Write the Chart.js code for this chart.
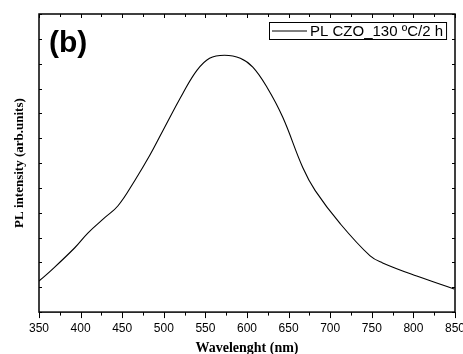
<!DOCTYPE html>
<html>
<head>
<meta charset="utf-8">
<script src="https://cdn.jsdelivr.net/npm/chart.js@4/dist/chart.umd.min.js"></script>
<style>
  html, body { margin: 0; padding: 0; background: #fff; }
  #wrap { width: 463px; height: 354px; }
</style>
</head>
<body>
<div id="wrap"><canvas id="grafico" width="463" height="354"></canvas></div>
<script>
const longitudes = [350, 364, 393, 409, 429, 445, 465, 483, 499, 523, 540, 555, 573, 592, 607, 624, 643, 667, 682, 712, 748, 763, 804, 849];
const intensidades = [1.25, 1.66, 2.59, 3.19, 3.80, 4.28, 5.29, 6.30, 7.31, 8.81, 9.74, 10.22, 10.34, 10.22, 9.86, 9.05, 7.84, 5.82, 4.89, 3.56, 2.26, 1.98, 1.45, 0.93];
const etiquetaSerie = "PL CZO_130 ºC/2 h";
const panel = "(b)";
const xMin = 350, xMax = 850, xPaso = 50, xMenor = 25;
const yMin = 0, yMax = 12, yPaso = 1;

const puntos = longitudes.map((x, i) => ({ x: x, y: intensidades[i] }));

// marco, ticks hacia dentro y leyenda con borde
const marco = {
  id: "marco",
  afterDraw(chart) {
    const ctx = chart.ctx;
    const a = chart.chartArea;
    const xs = chart.scales.x;
    const ys = chart.scales.y;
    ctx.save();
    ctx.strokeStyle = "#000";
    ctx.lineWidth = 1.5;
    ctx.strokeRect(a.left, a.top, a.right - a.left, a.bottom - a.top);
    ctx.lineWidth = 1;
    ctx.beginPath();
    for (let v = xMin; v <= xMax; v += xMenor) {
      const px = Math.round(xs.getPixelForValue(v)) + 0.5;
      const largo = v % xPaso === 0 ? 6 : 3.5;
      ctx.moveTo(px, a.bottom);
      ctx.lineTo(px, a.bottom + largo);
      ctx.moveTo(px, a.top);
      ctx.lineTo(px, a.top + (v % xPaso === 0 ? 4 : 3));
    }
    for (let v = yMin; v <= yMax; v += yPaso) {
      const py = Math.round(ys.getPixelForValue(v)) + 0.5;
      ctx.moveTo(a.left, py);
      ctx.lineTo(a.left + 3, py);
      ctx.moveTo(a.right, py);
      ctx.lineTo(a.right - 3, py);
    }
    ctx.stroke();

    // leyenda
    ctx.font = "15px 'Liberation Sans', Arial, sans-serif";
    const tw = ctx.measureText(etiquetaSerie).width;
    const bx = 269, by = 22, bh = 17;
    const bw = 41 + tw + 3;
    ctx.lineWidth = 1;
    ctx.strokeRect(bx + 0.5, by + 0.5, bw, bh);
    ctx.beginPath();
    ctx.moveTo(bx + 3, by + 9);
    ctx.lineTo(bx + 38, by + 9);
    ctx.stroke();
    ctx.fillStyle = "#000";
    ctx.textBaseline = "middle";
    ctx.fillText(etiquetaSerie, bx + 41, by + 10);

    // letra del panel
    ctx.font = "bold 30px 'Liberation Sans', Arial, sans-serif";
    ctx.textBaseline = "alphabetic";
    ctx.fillText(panel, 49, 52);
    ctx.restore();
  }
};

new Chart(document.getElementById("grafico").getContext("2d"), {
  type: "line",
  data: {
    datasets: [
      {
        label: etiquetaSerie,
        data: puntos,
        borderColor: "#000",
        borderWidth: 1.1,
        pointRadius: 0,
        tension: 0.4,
        fill: false,
      },
    ],
  },
  options: {
    responsive: false,
    animation: false,
    events: [],
    layout: { padding: { top: 14, left: 13, right: 8, bottom: 0 } },
    plugins: { legend: { display: false }, tooltip: { enabled: false } },
    scales: {
      x: {
        type: "linear",
        min: xMin,
        max: xMax,
        afterFit(s) { s.paddingLeft = 0; s.paddingRight = 0; },
        ticks: {
          stepSize: xPaso,
          color: "#000",
          padding: 3,
          maxRotation: 0,
          font: { family: "'Liberation Sans', Arial, sans-serif", size: 12 },
        },
        grid: { display: false, drawTicks: true, tickLength: 6 },
        border: { display: false },
        title: {
          display: true,
          text: "Wavelenght (nm)",
          color: "#000",
          padding: { top: 3, bottom: -1.5 },
          font: { family: "'Liberation Serif', 'Times New Roman', serif", size: 14, weight: "bold", lineHeight: 1 },
        },
      },
      y: {
        min: yMin,
        max: yMax,
        ticks: { display: false, stepSize: yPaso },
        grid: { display: false, drawTicks: false },
        border: { display: false },
        title: {
          display: true,
          text: "PL intensity (arb.units)",
          color: "#000",
          padding: { top: 0, bottom: 13 },
          font: { family: "'Liberation Serif', 'Times New Roman', serif", size: 13, weight: "bold", lineHeight: 1 },
        },
      },
    },
  },
  plugins: [marco],
});
</script>
</body>
</html>
